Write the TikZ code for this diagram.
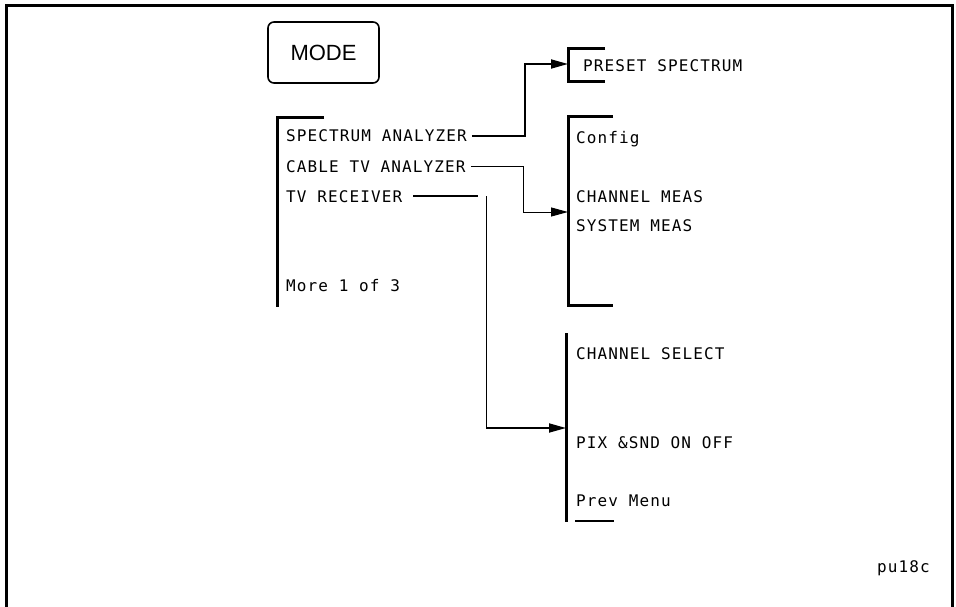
\documentclass[tikz,border=0pt]{standalone}
\usepackage{fontspec}
\setmainfont{Liberation Sans}
\newfontfamily\hpfont[LetterSpace=7]{DejaVu Sans Mono}
\usetikzlibrary{arrows.meta}
\begin{document}
\begin{tikzpicture}[x=1pt,y=-1pt,
  lbl/.style={font=\hpfont\fontsize{16}{18}\selectfont, inner sep=0pt, anchor=base west},
  brk/.style={line width=3pt},
  conn/.style={line width=1.8pt},
  tip/.style={-{Triangle[length=17pt,width=9pt]}}]
\useasboundingbox (0,0) rectangle (956,607);
% outer frame
\draw[line width=3pt] (6,607) -- (6,5.5) -- (952.5,5.5) -- (952.5,607);
% MODE key
\node[draw, line width=1.6pt, rounded corners=6pt, minimum width=111pt, minimum height=61pt, inner sep=0pt]
  (mode) at (323.5,52.5) {\fontsize{22}{24}\selectfont MODE};
% left menu
\draw[brk] (324,118) -- (277,118) -- (277,307);
\node[lbl] (sa) at (286,142) {SPECTRUM ANALYZER};
\node[lbl] (ca) at (286,172) {CABLE TV ANALYZER};
\node[lbl] (tv) at (286,202) {TV RECEIVER};
\node[lbl] (more) at (286,291) {More 1 of 3};
% preset menu
\draw[brk] (605,49) -- (568,49) -- (568,82) -- (605,82);
\node[lbl] (ps) at (583,72) {PRESET SPECTRUM};
\coordinate (psin) at (568,64);
% cable tv menu
\draw[brk] (613,117) -- (568,117) -- (568,305) -- (613,305);
\node[lbl] (cfg) at (576,143) {Config};
\node[lbl] (cm) at (576,202) {CHANNEL MEAS};
\node[lbl] (sm) at (576,231) {SYSTEM MEAS};
\coordinate (cmin) at (568,212);
% tv receiver menu
\draw[brk] (566,333) -- (566,522);
\node[lbl] (cs) at (576,359) {CHANNEL SELECT};
\node[lbl] (px) at (576,448) {PIX \&SND ON OFF};
\node[lbl] (pm) at (576,506) {Prev Menu};
\draw[line width=2.5pt] (575,521) -- (614,521);
\coordinate (pxin) at (566,428);
% connectors
\draw[conn,tip] ([xshift=5pt]sa.east) -- ++(53,0) coordinate (sab) |- (psin);
\draw[line width=1pt,tip] ([xshift=5pt]ca.east) -- ++(53,0) coordinate (cab) |- (cmin);
\draw[conn] ([xshift=11pt]tv.east) -- ++(65,0) coordinate (tve);
\draw[conn,tip] ([xshift=8pt]tve) |- (pxin);
% id
\node[lbl] (id) at (877,572) {pu18c};
\end{tikzpicture}
\end{document}
